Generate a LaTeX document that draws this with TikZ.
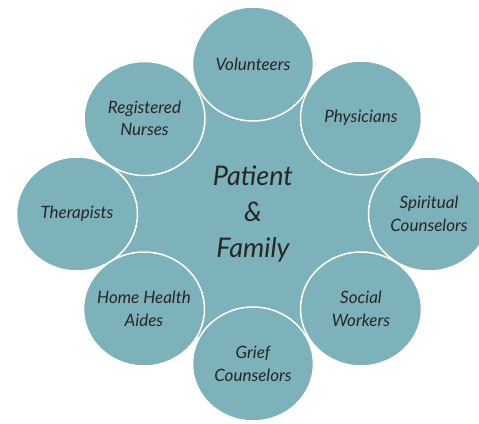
\documentclass[tikz,border=0pt]{standalone}
\usepackage{fontspec}
\setmainfont{Lato}
\usetikzlibrary{shapes.geometric}
\definecolor{teal1}{RGB}{126,178,186}
\definecolor{txt}{RGB}{38,38,38}
\tikzset{
  outer/.style={ellipse, fill=teal1, draw=white, line width=1.5pt,
    minimum width=121pt, minimum height=114pt, inner sep=0pt},
  outertext/.style={align=center, text=txt, inner sep=0pt,
    font=\fontsize{17}{22.5}\selectfont\itshape},
  hub/.style={ellipse, fill=teal1, minimum width=290pt, minimum height=266pt,
    inner sep=0pt, align=center, text=txt, font=\fontsize{27}{36}\selectfont\itshape}
}
\begin{document}
\begin{tikzpicture}[x=1pt,y=-1pt]
\useasboundingbox (0,0) rectangle (479,423);
\clip (0,0) rectangle (479,423);
\fill[white] (0,0) rectangle (479,423);
\node[hub] (pf) at (253,214) {Patient\\\&\\Family};
\node[outer] (hh) at (144,309) {};
\node[outer] (th) at (77,214) {};
\node[outer] (rn) at (144.5,118.5) {};
\node[outer] (vo) at (253,64) {};
\node[outer] (ph) at (361,118) {};
\node[outer] (sc) at (429,214) {};
\node[outer] (sw) at (361,309) {};
\node[outer] (gc) at (253,364) {};
\node[outertext] (hht) at (hh.center) {Home Health\\Aides};
\node[outertext] (tht) at (th.center) {Therapists};
\node[outertext] (rnt) at (rn.center) {Registered\\Nurses};
\node[outertext] (vot) at (vo.center) {Volunteers};
\node[outertext] (pht) at (ph.center) {Physicians};
\node[outertext] (sct) at (sc.center) {Spiritual\\Counselors};
\node[outertext] (swt) at (sw.center) {Social\\Workers};
\node[outertext] (gct) at (gc.center) {Grief\\Counselors};
\end{tikzpicture}
\end{document}
